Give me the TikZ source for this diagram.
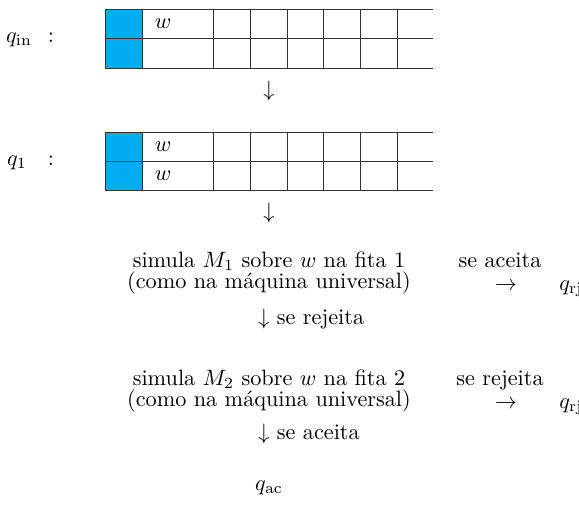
\documentclass[tikz,border=0pt]{standalone}
\definecolor{tapeblue}{RGB}{0,174,239}
\tikzset{
  lbl/.style={inner sep=0pt, anchor=center},
  bl/.style={inner sep=0pt, anchor=base},
  tapeline/.style={draw=black!80, line width=0.4pt},
}
\begin{document}
\begin{tikzpicture}[x=0.45pt,y=-0.45pt]
\useasboundingbox (0,0) rectangle (579,518);
% tape 1
\fill[tapeblue] (105,9) rectangle (142,68.7);
\foreach \y in {9,38.7,68.7} \draw[tapeline] (105,\y) -- (433,\y);
\foreach \x in {105,142,213,250,287,323,360,397} \draw[tapeline] (\x,9) -- (\x,68.7);
\node[lbl] (w1) at (163,24) {$w$};
\node[lbl] (qin) at (19,40) {$q_{\mathrm{in}}$};
\node[lbl] (c1) at (51,38) {$:$};
\node[lbl] (a1) at (269,91) {$\downarrow$};
% tape 2
\fill[tapeblue] (105,132) rectangle (142,190);
\foreach \y in {132,161,190} \draw[tapeline] (105,\y) -- (433,\y);
\foreach \x in {105,142,213,250,287,323,360,397} \draw[tapeline] (\x,132) -- (\x,190);
\node[lbl] (w2) at (163,147) {$w$};
\node[lbl] (w3) at (163,176) {$w$};
\node[lbl] (q1) at (17,163) {$q_1$};
\node[lbl] (c2) at (51,161) {$:$};
\node[lbl] (a2) at (269,213) {$\downarrow$};
% block 1
\node[bl] (s1a) at (269,267) {simula $M_1$ sobre $w$ na fita 1};
\node[bl] (s1b) at (269,288) {(como na máquina universal)};
\node[bl] (r1a) at (500,267) {se aceita};
\node[bl] (r1b) at (506,290) {$\rightarrow$};
\node[bl] (qrj1) at (571,290) {$q_{\mathrm{rj}}$};
\node[bl,anchor=base west] (d1) at (258,324) {$\downarrow$ se rejeita};
% block 2
\node[bl] (s2a) at (269,385) {simula $M_2$ sobre $w$ na fita 2};
\node[bl] (s2b) at (269,406) {(como na máquina universal)};
\node[bl] (r2a) at (500,385) {se rejeita};
\node[bl] (r2b) at (506,408) {$\rightarrow$};
\node[bl] (qrj2) at (571,408) {$q_{\mathrm{rj}}$};
\node[bl,anchor=base west] (d2) at (258,439) {$\downarrow$ se aceita};
\node[lbl] (qac) at (269,488) {$q_{\mathrm{ac}}$};
\end{tikzpicture}
\end{document}
